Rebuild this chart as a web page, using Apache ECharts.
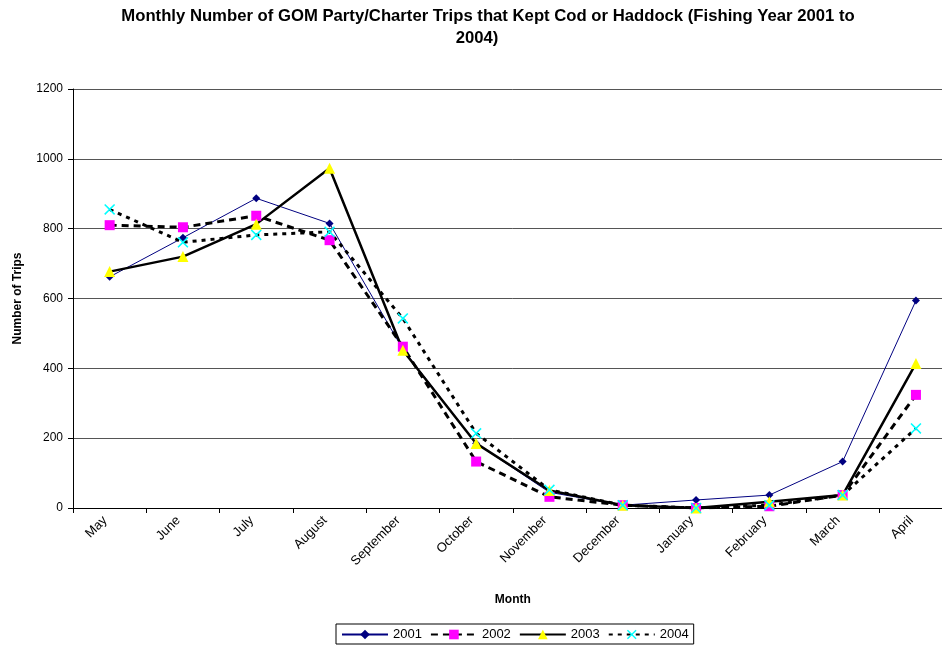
<!DOCTYPE html>
<html><head><meta charset="utf-8">
<script src="https://cdn.jsdelivr.net/npm/echarts@6/dist/echarts.min.js"></script>
<style>html,body{margin:0;padding:0;background:#fff;overflow:hidden}#c{width:970px;height:646px}</style>
</head><body><div id="c"></div>
<script>
const months = ['May','June','July','August','September','October','November','December','January','February','March','April'];
const y2001 = [662, 774, 887, 815, 455, 185, 45, 8, 23, 37, 133, 594];
const y2002 = [810, 804, 837, 767, 462, 133, 32, 8, 0, 5, 37, 324];
const y2003 = [677, 720, 813, 973, 452, 185, 50, 8, 0, 18, 37, 414];
const y2004 = [855, 761, 782, 791, 543, 214, 52, 8, 0, 8, 37, 228];
const yTicks = [0, 200, 400, 600, 800, 1000, 1200];

const FONT = 'Liberation Sans, Arial, sans-serif';
const xSym = 'path://M0,1 L1,0 L5,4 L9,0 L10,1 L6,5 L10,9 L9,10 L5,6 L1,10 L0,9 L4,5 Z';

const chart = echarts.init(document.getElementById('c'), null, {renderer: 'canvas'});
chart.setOption({
  animation: false,
  textStyle: {fontFamily: FONT},
  graphic: [
    {type: 'text', x: 488, y: 8, style: {text: 'Monthly Number of GOM Party/Charter Trips that Kept Cod or Haddock (Fishing Year 2001 to', font: 'bold 16.7px ' + FONT, fill: '#000', align: 'center'}},
    {type: 'text', x: 477, y: 30, style: {text: '2004)', font: 'bold 16.7px ' + FONT, fill: '#000', align: 'center'}}
  ],
  grid: {left: 73, top: 89, width: 879.6, height: 419, containLabel: false},
  legend: {
    bottom: 2, left: 336,
    itemWidth: 46, itemHeight: 12, itemGap: 8,
    borderColor: '#000', borderWidth: 1, padding: [4, 5, 3, 5],
    textStyle: {fontSize: 13, color: '#000', fontFamily: FONT},
    data: ['2001', '2002', '2003', '2004']
  },
  xAxis: {
    type: 'category', data: months, boundaryGap: true,
    name: 'Month', nameLocation: 'middle', nameGap: 86,
    nameTextStyle: {fontWeight: 'bold', fontSize: 12, color: '#000'},
    axisLine: {lineStyle: {color: '#000', width: 1}},
    axisTick: {show: true, length: 5, lineStyle: {color: '#000'}},
    axisLabel: {rotate: 45, fontSize: 13, color: '#000', margin: 15, interval: 0, verticalAlign: 'bottom'}
  },
  yAxis: {
    type: 'value', min: 0, max: 1200, interval: 200,
    name: 'Number of Trips', nameLocation: 'middle', nameGap: 49, nameRotate: 90,
    nameTextStyle: {fontWeight: 'bold', fontSize: 12, color: '#000'},
    axisLine: {show: true, lineStyle: {color: '#000', width: 1}},
    axisTick: {show: true, length: 5, lineStyle: {color: '#000'}},
    axisLabel: {fontSize: 12, color: '#000', margin: 10, formatter: v => String(v)},
    splitLine: {show: true, lineStyle: {color: '#555', width: 1}}
  },
  series: [
    {name: '2001', type: 'line', data: y2001, symbol: 'diamond', symbolSize: 8,
     itemStyle: {color: '#000080'}, lineStyle: {color: '#000080', width: 1}},
    {name: '2002', type: 'line', data: y2002, symbol: 'rect', symbolSize: 10,
     itemStyle: {color: '#ff00ff'}, lineStyle: {color: '#000', width: 3, type: [7, 5]}},
    {name: '2003', type: 'line', data: y2003, symbol: 'triangle', symbolSize: 11,
     itemStyle: {color: '#ffff00'}, lineStyle: {color: '#000', width: 2.5}},
    {name: '2004', type: 'line', data: y2004, symbol: xSym, symbolSize: 11,
     itemStyle: {color: '#00ffff'}, lineStyle: {color: '#000', width: 3, type: [4, 5]}}
  ]
});
</script></body></html>
